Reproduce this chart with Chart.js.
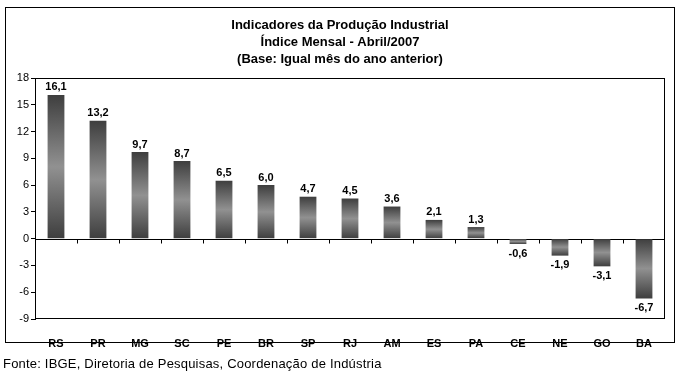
<!DOCTYPE html>
<html>
<head>
<meta charset="utf-8">
<script src="https://cdn.jsdelivr.net/npm/chart.js@4/dist/chart.umd.min.js"></script>
<style>
  html, body { margin: 0; padding: 0; background: #fff; }
  #wrap { width: 689px; height: 374px; position: relative; }
</style>
</head>
<body>
<div id="wrap"><canvas id="c" width="689" height="374"></canvas></div>
<script>
const categories = ['RS','PR','MG','SC','PE','BR','SP','RJ','AM','ES','PA','CE','NE','GO','BA'];
const values = [16.1, 13.2, 9.7, 8.7, 6.5, 6.0, 4.7, 4.5, 3.6, 2.1, 1.3, -0.6, -1.9, -3.1, -6.7];
const yMin = -9;
const yMax = 18;
const yStep = 3;
const titleLines = ['Indicadores da Produção Industrial', 'Índice Mensal - Abril/2007', '(Base: Igual mês do ano anterior)'];
const footerText = 'Fonte: IBGE, Diretoria de Pesquisas, Coordenação de Indústria';

const FONT = '"Liberation Sans", Arial, sans-serif';

function fmt(v) { return v.toFixed(1).replace('.', ','); }

function barGradient(ctx) {
  const chart = ctx.chart;
  if (!chart.chartArea || ctx.type !== 'data') return '#666';
  const ys = chart.scales.y;
  const v = values[ctx.dataIndex];
  const a = ys.getPixelForValue(0), b = ys.getPixelForValue(v);
  const top = Math.min(a, b), bot = Math.max(a, b);
  const g = chart.ctx.createLinearGradient(0, top, 0, bot + 0.01);
  g.addColorStop(0, '#3e3e3e');
  g.addColorStop(0.5, '#919191');
  g.addColorStop(1, '#3e3e3e');
  return g;
}

const decor = {
  id: 'decor',
  beforeDatasetsDraw(chart) {
    const c = chart.ctx, ca = chart.chartArea, xs = chart.scales.x, ys = chart.scales.y;
    c.save();
    c.strokeStyle = '#000';
    c.lineWidth = 1;
    c.strokeRect(Math.round(ca.left) + 0.5, Math.round(ca.top) + 0.5, Math.round(ca.right - ca.left) - 1, Math.round(ca.bottom - ca.top) - 1);
    const y0 = Math.round(ys.getPixelForValue(0)) + 0.5;
    c.beginPath();
    c.moveTo(ca.left, y0); c.lineTo(ca.right, y0);
    for (let i = 0; i < categories.length - 1; i++) {
      const x = Math.round((xs.getPixelForValue(i) + xs.getPixelForValue(i + 1)) / 2) + 0.5;
      c.moveTo(x, y0); c.lineTo(x, y0 + 4);
    }
    c.stroke();
    c.restore();
  },
  afterDatasetsDraw(chart) {
    const c = chart.ctx;
    const meta = chart.getDatasetMeta(0);
    c.save();
    c.fillStyle = '#000';
    c.font = 'bold 11px ' + FONT;
    c.textAlign = 'center';
    meta.data.forEach((bar, i) => {
      const v = values[i];
      if (v >= 0) {
        c.textBaseline = 'bottom';
        c.fillText(fmt(v), bar.x, bar.y - 2);
      } else {
        c.textBaseline = 'top';
        c.fillText(fmt(v), bar.x, bar.y + 4);
      }
    });
    c.restore();
  },
  afterDraw(chart) {
    const c = chart.ctx;
    c.save();
    c.strokeStyle = '#000';
    c.lineWidth = 1;
    c.strokeRect(5.5, 7.5, 669, 335);
    c.fillStyle = '#000';
    c.textAlign = 'center';
    c.textBaseline = 'middle';
    c.font = 'bold 13px ' + FONT;
    titleLines.forEach((t, i) => c.fillText(t, 340, 25 + i * 17));
    c.textAlign = 'left';
    c.font = '13px ' + FONT;
    if ('letterSpacing' in c) c.letterSpacing = '0.2px';
    c.fillText(footerText, 3, 364);
    c.restore();
  }
};

new Chart(document.getElementById('c'), {
  type: 'bar',
  data: {
    labels: categories,
    datasets: [{
      data: values,
      backgroundColor: barGradient,
      borderWidth: 0,
      barPercentage: 0.4,
      categoryPercentage: 1.0
    }]
  },
  options: {
    responsive: false,
    animation: false,
    devicePixelRatio: 1,
    layout: { padding: { left: 3, right: 24, top: 78, bottom: 27 } },
    plugins: {
      legend: { display: false },
      title: { display: false },
      tooltip: { enabled: false }
    },
    scales: {
      x: {
        grid: { display: false },
        border: { display: false },
        ticks: { color: '#000', font: { family: FONT, size: 11, weight: 'bold' }, padding: 10, maxRotation: 0 },
        afterFit(s) { s.height = 28; }
      },
      y: {
        min: yMin,
        max: yMax,
        ticks: { stepSize: yStep, color: '#000', font: { family: FONT, size: 11 }, padding: 2 },
        grid: { drawOnChartArea: false, color: '#000', tickLength: 4 },
        border: { display: true, color: '#000', width: 1 },
        afterFit(s) { s.width = 32; }
      }
    }
  },
  plugins: [decor]
});
</script>
</body>
</html>
